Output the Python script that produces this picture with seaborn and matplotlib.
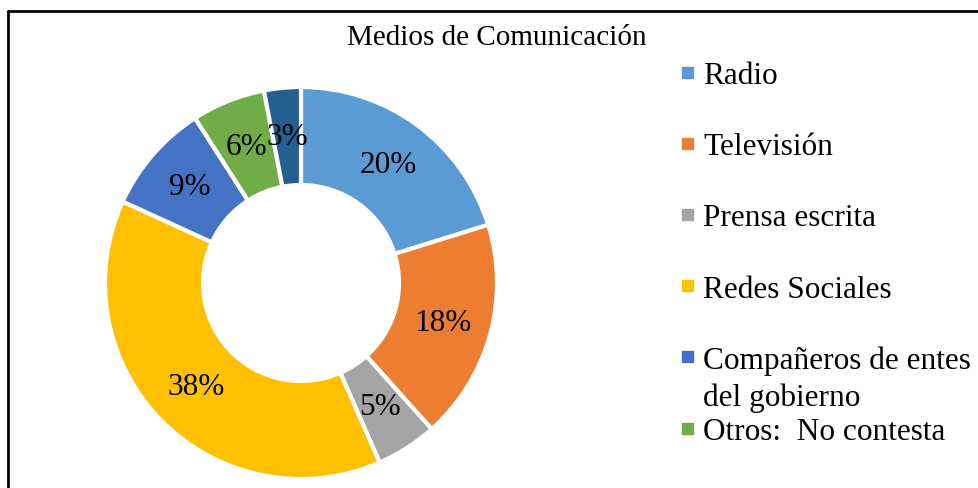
import matplotlib.pyplot as plt
import matplotlib.patches as mpatches
import seaborn as sns

# data
categories = ['Radio', 'Televisión', 'Prensa escrita', 'Redes Sociales',
              'Compañeros de entes\ndel gobierno', 'Otros:  No contesta', '']
shares = [20, 18, 5, 38, 9, 6, 3]
colors = ['#5B9BD5', '#ED7D31', '#A5A5A5', '#FFC000', '#4472C4', '#70AD47', '#255E91']
n_legend = 6  # last entry falls outside the picture

sns.set_style('white')
plt.rcParams['font.family'] = ['Liberation Serif', 'DejaVu Serif']
plt.rcParams['text.color'] = 'black'

W, H = 979, 489
fig = plt.figure(figsize=(W / 100, H / 100), dpi=100)

cx, cy, r = 301, 284, 196
ax = fig.add_axes([(cx - r) / W, (H - cy - r) / H, 2 * r / W, 2 * r / H])
wedges, texts, autotexts = ax.pie(
    shares, colors=colors, startangle=90, counterclock=False,
    autopct='%1.0f%%', pctdistance=0.75,
    wedgeprops=dict(width=0.5, edgecolor='white', linewidth=3),
    textprops=dict(fontsize=22.5, color='black'))
ax.set_xlim(-1, 1)
ax.set_ylim(-1, 1)
ax.set_aspect('equal')
ax.axis('off')

fig.text(497 / W, 1 - 38 / H, 'Medios de Comunicación', ha='center', va='center', fontsize=21)

# legend drawn by slot
for i in range(n_legend):
    yc = 73 + 71.2 * i
    fig.patches.append(mpatches.Rectangle(((682) / W, 1 - (yc + 5.5) / H), 11 / W, 11 / H,
                                          transform=fig.transFigure, color=colors[i]))
    fig.text(703 / W, 1 - (yc - 11) / H, categories[i], ha='left', va='top',
             fontsize=22.5, linespacing=1.3)

# chart frame (top and left edges visible)
fig.add_artist(plt.Line2D([8 / W, 1], [1 - 12 / H, 1 - 12 / H], color='black', lw=2, transform=fig.transFigure))
fig.add_artist(plt.Line2D([8 / W, 8 / W], [0, 1 - 12 / H], color='black', lw=2, transform=fig.transFigure))

fig.savefig('out.png', dpi=100)
